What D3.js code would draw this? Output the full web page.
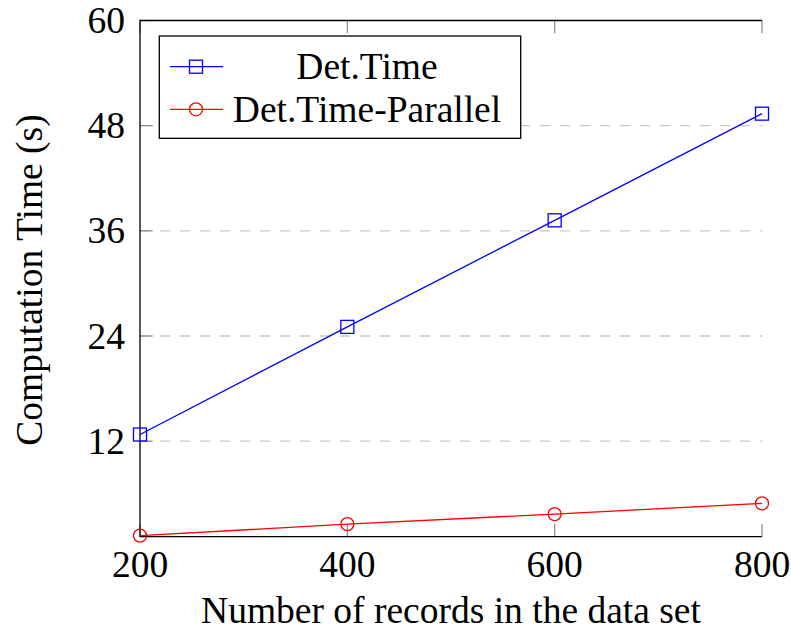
<!DOCTYPE html>
<html><head><meta charset="utf-8">
<script src="https://cdn.jsdelivr.net/npm/d3@7"></script>
<style>body{margin:0;background:#fff}svg{display:block}</style>
</head><body>
<script>
const records = [200, 400, 600, 800];
const detTime = [12.76, 25.04, 37.2, 49.37];
const detTimeParallel = [1.22, 2.53, 3.68, 4.9];
const xTicks = [200, 400, 600, 800];
const yTicks = [12, 24, 36, 48, 60];
const seriesNames = ["Det.Time", "Det.Time-Parallel"];

const W = 791, H = 633;
const FF = "Liberation Serif";
const svg = d3.select("body").append("svg").attr("width", W).attr("height", H);
const L = 140, R = 762, T = 20.5, B = 536.7;
const x = d3.scaleLinear().domain([200, 800]).range([L, R]);
const y = d3.scaleLinear().domain([1.1, 60]).range([B, T]);
const fs = 37.5;

// grid
svg.append("g").selectAll("line").data(yTicks.filter(d => d < 60)).join("line")
  .attr("x1", L).attr("x2", R).attr("y1", d => y(d)).attr("y2", d => y(d))
  .attr("stroke", "#c8c8c8").attr("stroke-width", 1.3).attr("stroke-dasharray", "10,10");

// ticks (inward, gray)
const tk = 12.7;
const tg = svg.append("g").attr("stroke", "#888").attr("stroke-width", 1.2);
xTicks.forEach(v => {
  tg.append("line").attr("x1", x(v)).attr("x2", x(v)).attr("y1", B).attr("y2", B - tk);
  tg.append("line").attr("x1", x(v)).attr("x2", x(v)).attr("y1", T).attr("y2", T + tk);
});
yTicks.forEach(v => {
  tg.append("line").attr("x1", L).attr("x2", L + tk).attr("y1", y(v)).attr("y2", y(v));
});

// axis lines
const ag = svg.append("g").attr("stroke", "#000").attr("stroke-width", 1.3).attr("fill", "none");
ag.append("path").attr("d", `M${R},${T}H${L}V${B}H${R}`);

// tick labels
svg.append("g").selectAll("text").data(xTicks).join("text")
  .attr("x", d => x(d)).attr("y", 577).attr("text-anchor", "middle")
  .attr("font-family", FF).attr("font-size", fs).text(d => d);
svg.append("g").selectAll("text").data(yTicks).join("text")
  .attr("x", 125).attr("y", d => y(d) + 12.5).attr("text-anchor", "end")
  .attr("font-family", FF).attr("font-size", fs).text(d => d);

// axis labels
svg.append("text").attr("x", 451).attr("y", 623).attr("text-anchor", "middle")
  .attr("font-family", FF).attr("font-size", fs).text("Number of records in the data set");
svg.append("text").attr("transform", "translate(42,280) rotate(-90)").attr("text-anchor", "middle")
  .attr("font-family", FF).attr("font-size", fs).text("Computation Time (s)");

// lines
const line = d3.line();
const blue = "#0000ff", red = "#ff0000";
svg.append("path").attr("d", line(records.map((r, i) => [x(r), y(detTime[i])])))
  .attr("fill", "none").attr("stroke", blue).attr("stroke-width", 1.3);
svg.append("path").attr("d", line(records.map((r, i) => [x(r), y(detTimeParallel[i])])))
  .attr("fill", "none").attr("stroke", red).attr("stroke-width", 1.3);

const sq = 13;
svg.append("g").selectAll("rect").data(records).join("rect")
  .attr("x", (d) => x(d) - sq / 2).attr("y", (d, i) => y(detTime[i]) - sq / 2)
  .attr("width", sq).attr("height", sq).attr("fill", "none").attr("stroke", blue).attr("stroke-width", 1.3);
svg.append("g").selectAll("circle").data(records).join("circle")
  .attr("cx", d => x(d)).attr("cy", (d, i) => y(detTimeParallel[i])).attr("r", 6.5)
  .attr("fill", "none").attr("stroke", red).attr("stroke-width", 1.3);

// legend
const lg = svg.append("g");
lg.append("rect").attr("x", 159.3).attr("y", 36).attr("width", 361.4).attr("height", 102.3)
  .attr("fill", "#fff").attr("stroke", "#000").attr("stroke-width", 1.3);
const rows = [66.7, 109.3];
const cols = [blue, red];
seriesNames.forEach((n, i) => {
  lg.append("line").attr("x1", 170).attr("x2", 223).attr("y1", rows[i]).attr("y2", rows[i])
    .attr("stroke", cols[i]).attr("stroke-width", 1.3);
  if (i === 0) lg.append("rect").attr("x", 196 - sq / 2).attr("y", rows[i] - sq / 2).attr("width", sq).attr("height", sq)
    .attr("fill", "none").attr("stroke", blue).attr("stroke-width", 1.3);
  else lg.append("circle").attr("cx", 196).attr("cy", rows[i]).attr("r", 6.5)
    .attr("fill", "none").attr("stroke", red).attr("stroke-width", 1.3);
  lg.append("text").attr("x", 367).attr("y", rows[i] + 12.5).attr("text-anchor", "middle")
    .attr("font-family", FF).attr("font-size", fs).text(n);
});
</script>
</body></html>
